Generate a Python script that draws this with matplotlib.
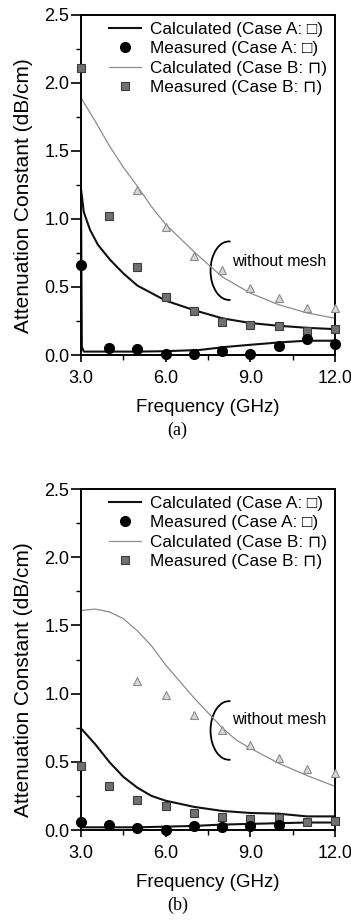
import matplotlib
matplotlib.use("Agg")
import matplotlib.pyplot as plt
from matplotlib.patches import Arc
from matplotlib.ticker import MultipleLocator, FormatStrFormatter

plt.rcParams['font.family'] = ['Liberation Sans', 'DejaVu Sans']

# ---- panel (a) data ----
freq = [3, 4, 5, 6, 7, 8, 9, 10, 11, 12]
a_meas_A = [0.66, 0.055, 0.045, 0.005, 0.007, 0.03, 0.007, 0.066, 0.12, 0.08]
a_meas_B = [2.11, 1.02, 0.65, 0.43, 0.32, 0.245, 0.22, 0.21, 0.18, 0.19]
a_tri_x = [5, 6, 7, 8, 9, 10, 11, 12]
a_tri = [1.21, 0.94, 0.73, 0.625, 0.49, 0.42, 0.345, 0.345]

a_calcB_x = [3.0, 3.5, 4.0, 4.5, 5.0, 5.5, 6.0, 7.0, 8.0, 9.0, 10.0, 11.0, 12.0]
a_calcB = [1.89, 1.72, 1.54, 1.38, 1.24, 1.09, 0.96, 0.76, 0.575, 0.455, 0.37, 0.31, 0.27]
a_calcA1_x = [3.0, 3.1, 3.32, 3.6, 4.03, 4.5, 5, 6, 7, 8, 9, 10, 11, 12]
a_calcA1 = [1.22, 1.05, 0.92, 0.81, 0.70, 0.60, 0.51, 0.40, 0.33, 0.27, 0.235, 0.215, 0.20, 0.19]
a_calcA2_x = [3.0, 3.03, 3.1, 4, 5, 6, 7.2, 8.16, 9, 10.05, 11, 12]
a_calcA2 = [1.15, 0.06, 0.025, 0.025, 0.025, 0.028, 0.037, 0.06, 0.075, 0.093, 0.105, 0.105]

# ---- panel (b) data ----
b_meas_A_x = [3, 4, 5, 6, 7, 8, 9, 10]
b_meas_A = [0.06, 0.035, 0.012, 0.0, 0.03, 0.025, 0.03, 0.04]
b_meas_B = [0.47, 0.32, 0.22, 0.176, 0.127, 0.098, 0.078, 0.09, 0.061, 0.068]
b_tri_x = [5, 6, 7, 8, 9, 10, 11, 12]
b_tri = [1.09, 0.99, 0.84, 0.73, 0.62, 0.53, 0.45, 0.42]

b_calcB_x = [3.0, 3.5, 4.0, 4.5, 5.0, 5.5, 6.0, 6.5, 7.0, 7.5, 8.0, 8.5, 9.0, 10.0, 11.0, 12.0]
b_calcB = [1.61, 1.62, 1.60, 1.55, 1.46, 1.35, 1.21, 1.09, 0.97, 0.86, 0.75, 0.66, 0.60, 0.49, 0.40, 0.32]
b_calcA1_x = [3.0, 3.5, 4.0, 4.5, 5.0, 5.5, 6.0, 7.0, 8.0, 9.0, 10.0, 11.0, 12.0]
b_calcA1 = [0.745, 0.63, 0.50, 0.39, 0.31, 0.25, 0.215, 0.17, 0.14, 0.125, 0.12, 0.10, 0.10]
b_calcA2_x = [3, 5, 7, 8, 9, 10, 11, 12]
b_calcA2 = [0.02, 0.02, 0.03, 0.04, 0.045, 0.05, 0.055, 0.055]

labels = ['Calculated (Case A: \u25a1)', 'Measured (Case A: \u25a1)',
          'Calculated (Case B: \u2293)', 'Measured (Case B: \u2293)']

GRAY_LINE = '#8c8c8c'
SQ_FACE = '#707070'
SQ_EDGE = '#3c3c3c'
TRI_FACE = '#d8d8d8'
TRI_EDGE = '#8a8a8a'


def draw_panel(ax, meas_A_x, meas_A, meas_B, tri_x, tri,
               calcB_x, calcB, calcA1_x, calcA1, calcA2_x, calcA2,
               bracket_y, text_y, ylab_y, tag):
    lA, = ax.plot(calcA1_x, calcA1, color='#111111', lw=1.5)
    ax.plot(calcA2_x, calcA2, color='#111111', lw=1.5)
    lB, = ax.plot(calcB_x, calcB, color=GRAY_LINE, lw=0.9)
    ax.plot(tri_x, tri, ls='none', marker='^', ms=6, mfc=TRI_FACE,
            mec=TRI_EDGE, mew=0.8, clip_on=False, zorder=4)
    mB, = ax.plot(freq, meas_B, ls='none', marker='s', ms=6, mfc=SQ_FACE,
                  mec=SQ_EDGE, mew=0.8, clip_on=False, zorder=4)
    mA, = ax.plot(meas_A_x, meas_A, ls='none', marker='o', ms=7,
                  color='black', clip_on=False, zorder=5)

    ax.set_xlim(3, 12)
    ax.set_ylim(0, 2.5)
    ax.xaxis.set_major_locator(MultipleLocator(3))
    ax.xaxis.set_minor_locator(MultipleLocator(1.5))
    ax.yaxis.set_major_locator(MultipleLocator(0.5))
    ax.yaxis.set_minor_locator(MultipleLocator(0.25))
    ax.xaxis.set_major_formatter(FormatStrFormatter('%.1f'))
    ax.yaxis.set_major_formatter(FormatStrFormatter('%.1f'))
    ax.tick_params(which='major', direction='out', width=1.2, labelsize=13)
    ax.tick_params(which='minor', direction='out', length=3.5, width=1.0)
    ax.tick_params(axis='x', which='major', length=5, pad=6)
    ax.tick_params(axis='y', which='major', length=7, pad=1.5)
    for s in ax.spines.values():
        s.set_linewidth(1.4)

    ax.set_xlabel('Frequency (GHz)', fontsize=13.5)
    ax.set_ylabel('Attenuation Constant (dB/cm)', fontsize=15)
    ax.xaxis.set_label_coords(0.5, -0.13)
    ax.yaxis.set_label_coords(-0.19, ylab_y)

    ax.legend([lA, mA, lB, mB], labels, loc='upper right',
              bbox_to_anchor=(0.97, 0.98), frameon=False, fontsize=12.3,
              handlelength=1.9, handletextpad=0.55, labelspacing=0.26,
              borderpad=0, borderaxespad=0, numpoints=1)

    ax.add_patch(Arc((8.24, bracket_y), 1.3, 0.43, theta1=75, theta2=285,
                     color='black', lw=1.3))
    ax.text(8.35, text_y, 'without mesh', fontsize=11.5, va='center', ha='left')
    ax.text(0.38, -0.222, tag, transform=ax.transAxes, ha='center', va='center',
            fontsize=13, family=['Liberation Serif', 'DejaVu Serif'])


fig = plt.figure(figsize=(3.51, 9.24), dpi=100)
ax_a = fig.add_axes([0.2308, 0.6158, 0.7236, 0.368])
ax_b = fig.add_axes([0.2308, 0.1017, 0.7236, 0.369])

draw_panel(ax_a, freq, a_meas_A, a_meas_B, a_tri_x, a_tri,
           a_calcB_x, a_calcB, a_calcA1_x, a_calcA1, a_calcA2_x, a_calcA2,
           0.62, 0.69, 0.47, '(a)')
draw_panel(ax_b, b_meas_A_x, b_meas_A, b_meas_B, b_tri_x, b_tri,
           b_calcB_x, b_calcB, b_calcA1_x, b_calcA1, b_calcA2_x, b_calcA2,
           0.73, 0.81, 0.44, '(b)')

fig.savefig('out.png', dpi=100)
